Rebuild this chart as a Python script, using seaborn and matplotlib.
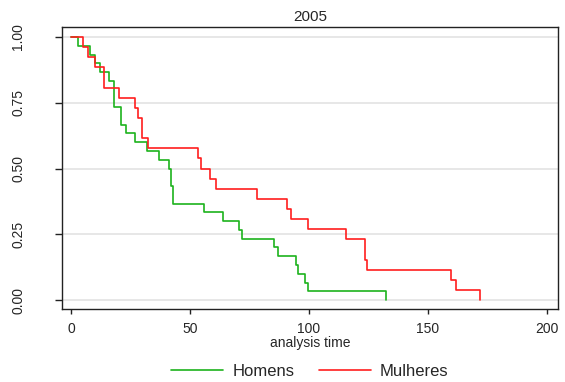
import numpy as np
import pandas as pd
import matplotlib
matplotlib.use("Agg")
import matplotlib.pyplot as plt
import seaborn as sns

# Kaplan-Meier inputs: event times and number of events at each time
grupos = ["Homens", "Mulheres"]
homens_n = 30
homens_tempo = [3, 8, 10, 12, 16, 18, 21, 23, 27, 32, 37, 41, 42, 43, 56, 64,
                70.5, 72, 85.5, 87, 94.5, 95.5, 98.5, 99.5, 132.5]
homens_eventos = [1, 1, 1, 1, 1, 3, 2, 1, 1, 1, 1, 1, 2, 2, 1, 1,
                  1, 1, 1, 1, 1, 1, 1, 1, 1]
mulheres_n = 26
mulheres_tempo = [5, 7, 10, 14, 20, 27, 28, 30, 32.5, 53.5, 54.5, 58.5, 61, 78,
                  91, 92.5, 99.5, 115.5, 123.5, 124.5, 160, 162, 172]
mulheres_eventos = [1, 1, 1, 2, 1, 1, 1, 2, 1, 1, 1, 1, 1, 1,
                    1, 1, 1, 1, 2, 1, 1, 1, 1]
cores = ["#1db31d", "#ff1e1e"]
xticks = [0, 50, 100, 150, 200]
yticks = [0.0, 0.25, 0.50, 0.75, 1.0]
titulo = "2005"


def km_curve(n, tempos, eventos):
    at_risk = n
    s = 1.0
    xs, ys = [0.0], [1.0]
    for t, d in zip(tempos, eventos):
        s *= (at_risk - d) / at_risk
        at_risk -= d
        xs.append(t)
        ys.append(s)
    return xs, ys


frames = []
for nome, n, tt, ee in [("Homens", homens_n, homens_tempo, homens_eventos),
                        ("Mulheres", mulheres_n, mulheres_tempo, mulheres_eventos)]:
    xs, ys = km_curve(n, tt, ee)
    frames.append(pd.DataFrame({"tempo": xs, "sobrevivencia": ys, "grupo": nome}))
df = pd.concat(frames, ignore_index=True)

sns.set_style("white")
plt.rcParams["font.family"] = ["Liberation Sans", "DejaVu Sans"]

fig = plt.figure(figsize=(5.65, 3.82), dpi=100)
ax = fig.add_axes([62 / 565, 1 - 309 / 382, (558 - 62) / 565, (309 - 27) / 382])

sns.lineplot(data=df, x="tempo", y="sobrevivencia", hue="grupo",
             hue_order=grupos, palette=cores, drawstyle="steps-post",
             estimator=None, errorbar=None, linewidth=1.2, ax=ax, legend=False)

ax.set_xlim(-3.8, 204.8)
ax.set_ylim(-0.034, 1.038)
ax.set_xticks(xticks)
ax.set_xticklabels([str(v) for v in xticks], fontsize=10)
ax.set_yticks(yticks)
ax.set_yticklabels([f"{v:.2f}" for v in yticks], fontsize=10,
                   rotation=90, va="center")
ax.tick_params(axis="y", length=5, width=1, pad=21.5, color="#222222",
               left=True)
ax.tick_params(axis="x", length=3.6, width=1, pad=5.5, color="#222222",
               bottom=True)
ax.yaxis.grid(True, color="#e0e0e0", linewidth=1.1)
ax.xaxis.grid(False)
ax.set_axisbelow(True)
for sp in ax.spines.values():
    sp.set_visible(True)
    sp.set_color("#222222")
    sp.set_linewidth(1.0)

ax.set_xlabel("analysis time", fontsize=10, labelpad=0)
ax.set_ylabel("")
ax.set_title(titulo, fontsize=11, pad=4)

handles = [plt.Line2D([], [], color=c, linewidth=1.2) for c in cores]
fig.legend(handles, grupos, loc="center", bbox_to_anchor=(310 / 565, 1 - 371 / 382),
           ncol=2, frameon=False, fontsize=12, handlelength=3.1,
           handletextpad=0.55, columnspacing=1.5)

fig.savefig("out.png", dpi=100)
